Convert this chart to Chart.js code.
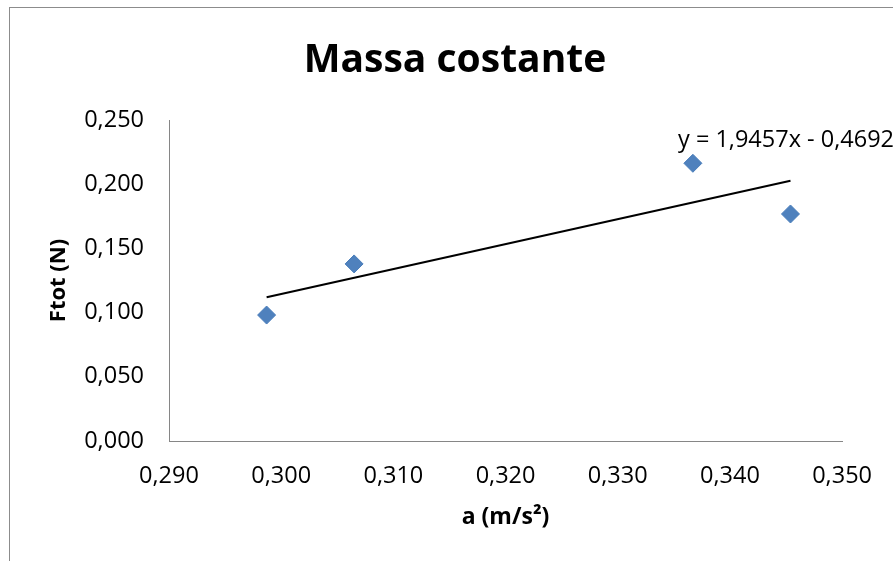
<!DOCTYPE html>
<html>
<head>
<meta charset="utf-8">
<script src="https://cdn.jsdelivr.net/npm/chart.js@4"></script>
<style>
  html, body { margin: 0; padding: 0; background: #fff; }
  canvas { display: block; }
</style>
</head>
<body>
<canvas id="massChart" width="893" height="561"></canvas>
<script>
// measured points: acceleration (m/s²) vs total force (N)
const accel = [0.2987, 0.3065, 0.3367, 0.3454];
const force = [0.0981, 0.1379, 0.2163, 0.1768];

// linear trendline end points, as shown in the chart
const trendX = [0.2987, 0.3454];
const trendY = [0.1119, 0.2027];

const chartTitle = 'Massa costante';
const trendLabel = 'y = 1,9457x - 0,4692';
const xTitle = 'a (m/s²)';
const yTitle = 'Ftot (N)';

const FONT = "'Open Sans', 'Liberation Sans', sans-serif";

function fmt(v) {
  return v.toFixed(3).replace('.', ',');
}

// white background + outer frame, title and equation text
const decorations = {
  id: 'decorations',
  beforeDraw(chart) {
    const c = chart.ctx;
    c.save();
    c.fillStyle = '#fff';
    c.fillRect(0, 0, chart.width, chart.height);
    c.strokeStyle = '#8c8c8c';
    c.lineWidth = 1;
    c.strokeRect(9.5, 7.5, 1000, 1000);
    c.restore();
  },
  afterDraw(chart) {
    const c = chart.ctx;
    c.save();
    c.fillStyle = '#000';
    c.textBaseline = 'alphabetic';
    c.font = 'bold 39px ' + FONT;
    c.textAlign = 'center';
    c.fillText(chartTitle, 455, 72);
    c.font = '23.5px ' + FONT;
    c.textAlign = 'left';
    c.fillText(trendLabel, 678, 147);
    c.restore();
  }
};

const pts = accel.map((x, i) => ({ x: x, y: force[i] }));
const trend = trendX.map((x, i) => ({ x: x, y: trendY[i] }));

new Chart(document.getElementById('massChart'), {
  type: 'scatter',
  data: {
    datasets: [
      {
        label: 'Ftot',
        data: pts,
        pointStyle: 'rectRot',
        pointRadius: 9,
        pointHoverRadius: 9,
        backgroundColor: '#4F81BD',
        borderColor: '#4A7EBB',
        borderWidth: 1,
      },
      {
        label: 'trend',
        data: trend,
        showLine: true,
        pointRadius: 0,
        borderColor: '#000',
        borderWidth: 2,
        fill: false,
      },
    ],
  },
  options: {
    responsive: false,
    animation: false,
    layout: { padding: { top: 120, right: 49, bottom: 0, left: 0 } },
    plugins: {
      legend: { display: false },
      tooltip: { enabled: false },
    },
    scales: {
      x: {
        type: 'linear',
        min: 0.29,
        max: 0.35,
        afterFit: s => { s.height = 120; },
        grid: { display: false, drawTicks: false },
        border: { display: true, color: '#868686', width: 1 },
        ticks: {
          stepSize: 0.01,
          padding: 21,
          color: '#000',
          font: { family: FONT, size: 23.5 },
          callback: v => fmt(v),
        },
        title: {
          display: true,
          text: xTitle,
          color: '#000',
          font: { family: FONT, size: 23, weight: 'bold' },
          padding: { top: 0, bottom: 30 },
        },
      },
      y: {
        type: 'linear',
        min: 0,
        max: 0.25,
        afterFit: s => { s.width = 169; },
        grid: { display: false, drawTicks: false },
        border: { display: true, color: '#868686', width: 1 },
        ticks: {
          stepSize: 0.05,
          padding: 25,
          color: '#000',
          font: { family: FONT, size: 23.5 },
          callback: v => fmt(v),
        },
        title: {
          display: true,
          text: yTitle,
          color: '#000',
          font: { family: FONT, size: 22, weight: 'bold' },
          padding: { top: 46, bottom: 0 },
        },
      },
    },
  },
  plugins: [decorations],
});
</script>
</body>
</html>
